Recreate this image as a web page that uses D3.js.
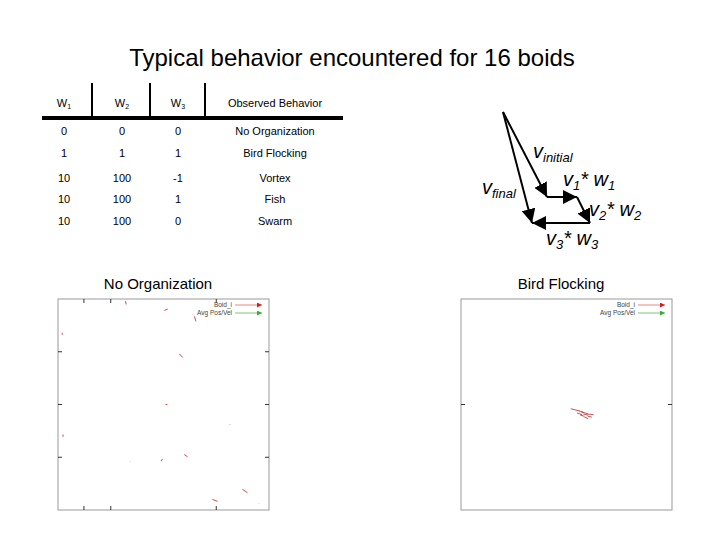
<!DOCTYPE html>
<html><head><meta charset="utf-8">
<script src="https://cdn.jsdelivr.net/npm/d3@7"></script>
<style>body{margin:0;background:#fff}text{font-family:"Liberation Sans",Arial,sans-serif}</style>
</head><body><div id="chart"></div>
<script>
// table data
var headers = ['W1', 'W2', 'W3', 'Observed Behavior'];
var w1 = ['0', '1', '10', '10', '10'];
var w2 = ['0', '1', '100', '100', '100'];
var w3 = ['0', '1', '-1', '1', '0'];
var behaviors = ['No Organization', 'Bird Flocking', 'Vortex', 'Fish', 'Swarm'];

// vector diagram path (diagram units)
var vecPts = [[0, 0], [44, 85], [74, 85], [87, 111], [29, 111]];
var vecLabels = [['v', 'initial', ''], ['v', '1', '* w', '1'], ['v', '2', '* w', '2'], ['v', '3', '* w', '3'], ['v', 'final', '']];

// boid snapshots: x, y, dx, dy (0..100 field units)
var noOrgBoids = [[32,99,0.3,-1.6],[50.4,94.6,1.6,0.6],[64.6,91.8,0.8,-2.4],[2,84,0,-1],[57.5,74,1.6,-1.7],
  [51,50,0.8,0],[2.4,35.8,0,-1.1],[48.8,23.2,0.8,1.1],[59.8,26.3,1.6,-1.1],[87.4,9.8,2.4,-1.6],[73.2,5,2.4,-0.9]];
var noOrgFaint = [[81,40.5,0.8,0],[34,23,0.5,0],[95,3,0.5,0]];
var flockBoids = [[52,48,2,-0.5],[54,47.5,2.2,-0.6],[56,47,2,-0.7],[55,46,2.4,-0.8],[57,46.5,2,-0.6],
  [58,45.5,2.2,-0.5],[59,46,2,-0.8],[56.5,45,2,-0.6],[60,44.5,2,-0.5],[58.5,44,1.8,-0.7],[61,45.5,1.8,-0.4]];

var svg = d3.select('#chart').append('svg').attr('width', 720).attr('height', 540);
var defs = svg.append('defs');
function marker(id, color, size) {
  defs.append('marker').attr('id', id).attr('viewBox', '0 0 10 10').attr('refX', 10).attr('refY', 5)
    .attr('markerWidth', size).attr('markerHeight', size).attr('markerUnits', 'userSpaceOnUse').attr('orient', 'auto')
    .append('path').attr('d', 'M0,0L10,5L0,10z').attr('fill', color);
}
marker('blk', '#000', 14);
marker('red', '#d02020', 5);
marker('grn', '#30b030', 5);

svg.append('text').attr('x', 352).attr('y', 66).attr('text-anchor', 'middle')
  .attr('font-size', 24).text('Typical behavior encountered for 16 boids');

/* Table */
var colX = d3.scalePoint().domain([0, 1, 2, 3]).range([64, 275]).padding(0);
colX = function(i) { return [64, 122, 178, 275][i]; };
var rowY = d3.scaleOrdinal().domain(d3.range(5)).range([135, 157, 182, 203, 225]);
headers.forEach(function(h, i) {
  var t = svg.append('text').attr('x', colX(i)).attr('y', 107).attr('text-anchor', 'middle').attr('font-size', 11);
  if (i < 3) { t.text(h[0]); t.append('tspan').attr('font-size', 7).attr('dy', 2).text(h[1]); }
  else t.text(h);
});
[92, 150, 205].forEach(function(x) {
  svg.append('line').attr('x1', x).attr('x2', x).attr('y1', 83).attr('y2', 117).attr('stroke', '#000').attr('stroke-width', 2);
});
svg.append('line').attr('x1', 42).attr('x2', 343).attr('y1', 118).attr('y2', 118).attr('stroke', '#000').attr('stroke-width', 4);
[w1, w2, w3, behaviors].forEach(function(col, i) {
  svg.selectAll(null).data(col).enter().append('text')
    .attr('x', colX(i)).attr('y', function(d, r) { return rowY(r); })
    .attr('text-anchor', 'middle').attr('font-size', 11).text(function(d) { return d; });
});

/* Vector diagram */
var vx = d3.scaleLinear().domain([0, 100]).range([503, 603]);
var vy = d3.scaleLinear().domain([0, 100]).range([112, 212]);
for (var i = 0; i < 4; i++) {
  svg.append('line').attr('x1', vx(vecPts[i][0])).attr('y1', vy(vecPts[i][1]))
    .attr('x2', vx(vecPts[i + 1][0])).attr('y2', vy(vecPts[i + 1][1]))
    .attr('stroke', '#000').attr('stroke-width', 2).attr('marker-end', 'url(#blk)');
}
svg.append('line').attr('x1', vx(0)).attr('y1', vy(0)).attr('x2', vx(vecPts[4][0])).attr('y2', vy(vecPts[4][1]))
  .attr('stroke', '#000').attr('stroke-width', 2).attr('marker-end', 'url(#blk)');
var labPos = [[533, 158], [563, 186], [589, 216], [546, 245], [482, 194]];
vecLabels.forEach(function(l, i) {
  var t = svg.append('text').attr('x', labPos[i][0]).attr('y', labPos[i][1]).attr('font-size', 20).attr('font-style', 'italic');
  t.append('tspan').text(l[0]);
  t.append('tspan').attr('font-size', 13).attr('dy', 4).text(l[1]);
  if (l[2]) {
    t.append('tspan').attr('dy', -4).text(l[2]);
    t.append('tspan').attr('font-size', 13).attr('dy', 4).text(l[3]);
  }
});

/* Boid plots */
function plot(x0, title, boids, faint, xticks, yticks) {
  var x = d3.scaleLinear().domain([0, 100]).range([x0, x0 + 211]);
  var y = d3.scaleLinear().domain([0, 100]).range([510, 299]);
  svg.append('text').attr('x', x0 + 100).attr('y', 289).attr('text-anchor', 'middle').attr('font-size', 15).text(title);
  svg.append('rect').attr('x', x0).attr('y', 299).attr('width', 211).attr('height', 211)
    .attr('fill', 'none').attr('stroke', '#999');
  xticks.forEach(function(t) {
    svg.append('line').attr('x1', x(t)).attr('x2', x(t)).attr('y1', 510).attr('y2', 506).attr('stroke', '#333');
    svg.append('line').attr('x1', x(t)).attr('x2', x(t)).attr('y1', 299).attr('y2', 303).attr('stroke', '#333');
  });
  yticks.forEach(function(t) {
    svg.append('line').attr('x1', x0).attr('x2', x0 + 4).attr('y1', y(t)).attr('y2', y(t)).attr('stroke', '#333');
    svg.append('line').attr('x1', x0 + 211).attr('x2', x0 + 207).attr('y1', y(t)).attr('y2', y(t)).attr('stroke', '#333');
  });
  svg.selectAll(null).data(boids).enter().append('line')
    .attr('x1', function(d) { return x(d[0]); }).attr('y1', function(d) { return y(d[1]); })
    .attr('x2', function(d) { return x(d[0] + d[2]); }).attr('y2', function(d) { return y(d[1] + d[3]); })
    .attr('stroke', '#c02020').attr('stroke-width', 0.8);
  svg.selectAll(null).data(faint).enter().append('line')
    .attr('x1', function(d) { return x(d[0]); }).attr('y1', function(d) { return y(d[1]); })
    .attr('x2', function(d) { return x(d[0] + d[2]); }).attr('y2', function(d) { return y(d[1] + d[3]); })
    .attr('stroke', '#ccc').attr('stroke-width', 0.8);
  var lg = [['Boid_i', 'red', '#e05050', 305], ['Avg Pos/Vel', 'grn', '#40b040', 313]];
  lg.forEach(function(l) {
    svg.append('text').attr('x', x0 + 174).attr('y', l[3] + 2).attr('text-anchor', 'end').attr('font-size', 6.5).attr('fill', '#444').text(l[0]);
    svg.append('line').attr('x1', x0 + 177).attr('x2', x0 + 204).attr('y1', l[3]).attr('y2', l[3])
      .attr('stroke', l[2]).attr('stroke-width', 0.7).attr('marker-end', 'url(#' + l[1] + ')');
  });
}
plot(58, 'No Organization', noOrgBoids, noOrgFaint, [12.3, 25, 75], [25, 50, 75]);
plot(461, 'Bird Flocking', flockBoids, [], [], [50]);
</script></body></html>
